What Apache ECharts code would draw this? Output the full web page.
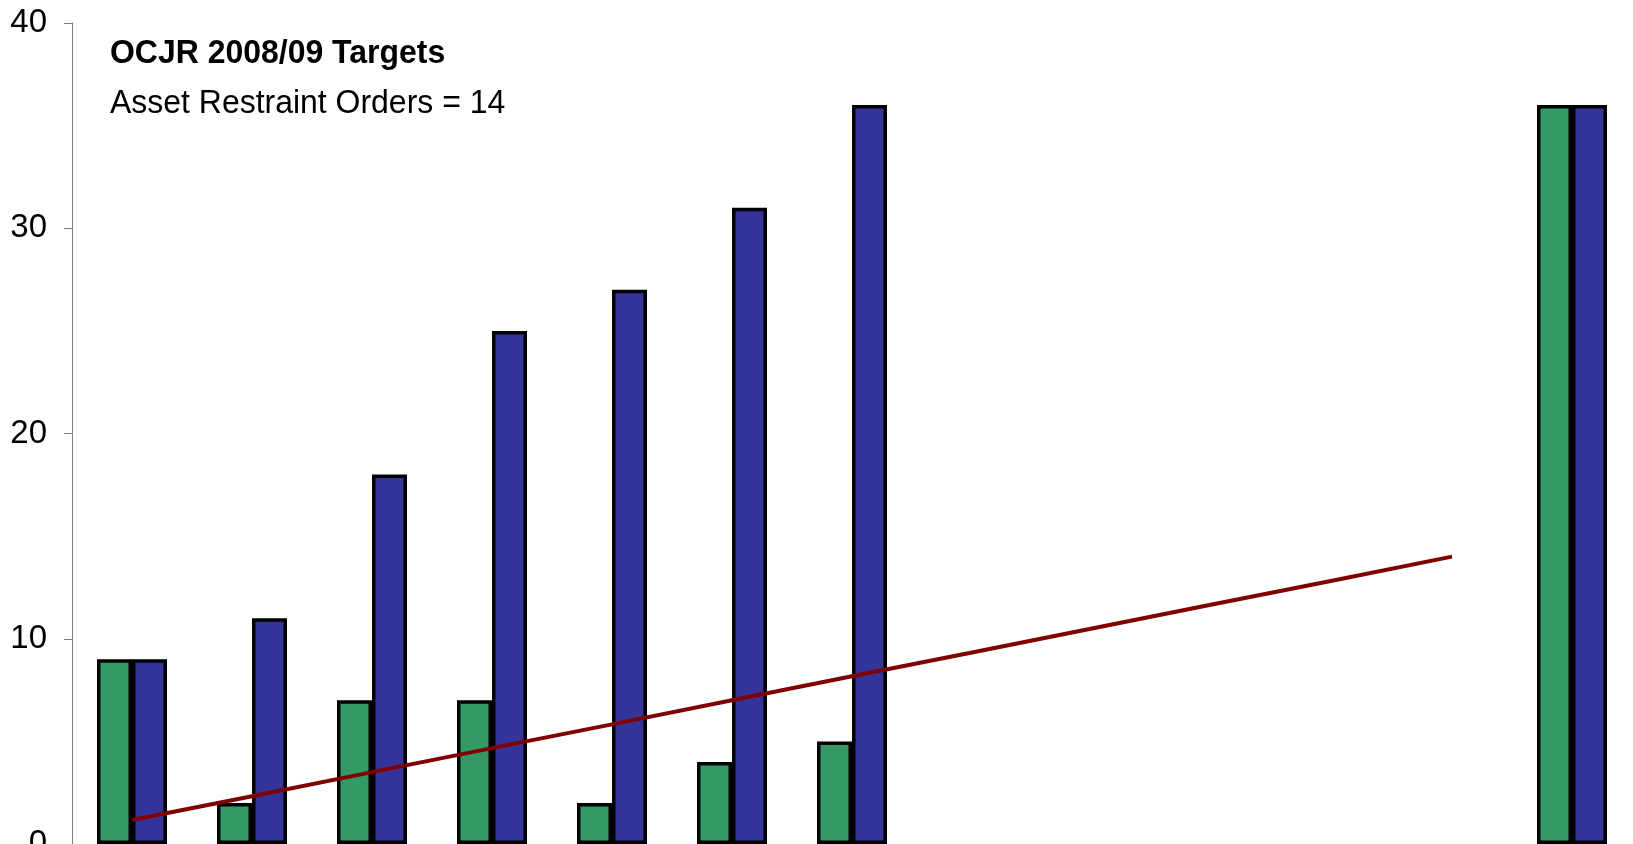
<!DOCTYPE html>
<html>
<head>
<meta charset="utf-8">
<script src="https://cdn.jsdelivr.net/npm/echarts@6/dist/echarts.min.js"></script>
<style>
  html, body { margin: 0; padding: 0; background: #fff; }
  #chart { width: 1633px; height: 844px; }
</style>
</head>
<body>
<div id="chart"></div>
<script>
const months = ['Apr', 'May', 'Jun', 'Jul', 'Aug', 'Sep', 'Oct', 'Nov', 'Dec', 'Jan', 'Feb', 'Mar', 'Total'];
const monthlyOrders = [9, 2, 7, 7, 2, 4, 5, null, null, null, null, null, 36];
const cumulativeOrders = [9, 11, 18, 25, 27, 31, 36, null, null, null, null, null, 36];
const targetLine = [1.17, 2.33, 3.5, 4.67, 5.83, 7, 8.17, 9.33, 10.5, 11.67, 12.83, 14, null];
const yTicks = [0, 10, 20, 30, 40];
const titleText = 'OCJR 2008/09 Targets';
const subtitleText = 'Asset Restraint Orders = 14';

const chart = echarts.init(document.getElementById('chart'));

const barStyle = color => ({ color: color, borderColor: '#000', borderWidth: 3.5 });

const option = {
  animation: false,
  backgroundColor: '#fff',
  textStyle: { fontFamily: 'Liberation Sans' },
  // text in the original is slightly condensed, hence scaleX
  graphic: [
    {
      type: 'text',
      x: 110,
      y: 37,
      scaleX: 0.94,
      style: { text: titleText, fill: '#000', font: 'bold 34px "Liberation Sans"' }
    },
    {
      type: 'text',
      x: 110,
      y: 87,
      scaleX: 0.94,
      style: { text: subtitleText, fill: '#000', font: '34px "Liberation Sans"' }
    }
  ],
  grid: { left: 72, right: 1, top: 23, bottom: 0, outerBoundsMode: 'none', containLabel: false },
  xAxis: {
    type: 'category',
    data: months,
    axisLine: { show: false },
    axisTick: { show: false },
    axisLabel: { show: false }
  },
  yAxis: {
    type: 'value',
    min: yTicks[0],
    max: yTicks[yTicks.length - 1],
    interval: 10,
    splitLine: { show: false },
    axisLine: { show: true, lineStyle: { color: '#808080', width: 1 } },
    axisTick: { show: true, length: 8, lineStyle: { color: '#808080' } },
    axisLabel: { color: '#000', fontSize: 33, fontFamily: 'Liberation Sans', margin: 25 }
  },
  series: [
    {
      name: 'Monthly',
      type: 'bar',
      data: monthlyOrders,
      barWidth: 35,
      barGap: '0%',
      itemStyle: barStyle('#339966')
    },
    {
      name: 'Cumulative',
      type: 'bar',
      data: cumulativeOrders,
      barWidth: 35,
      itemStyle: barStyle('#333399')
    },
    {
      name: 'Target',
      type: 'line',
      data: targetLine,
      showSymbol: false,
      symbol: 'none',
      z: 5,
      lineStyle: { color: '#800000', width: 4 }
    }
  ]
};

chart.setOption(option);
</script>
</body>
</html>
